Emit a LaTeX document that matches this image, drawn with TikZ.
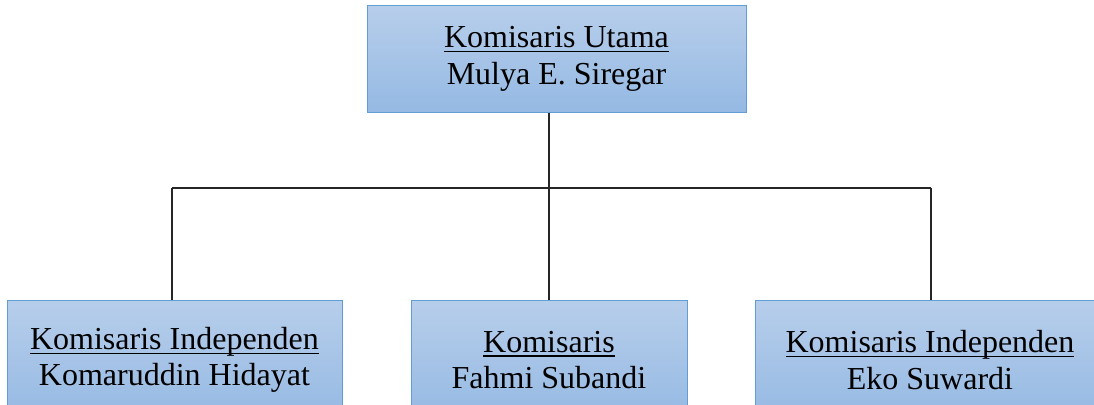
\documentclass[tikz,border=0pt]{standalone}
\usepackage{fontspec}
\setmainfont{Liberation Serif}
\usepackage{tikz}
\definecolor{boxtop}{RGB}{183,206,235}
\definecolor{boxbot}{RGB}{149,185,227}
\definecolor{boxline}{RGB}{98,158,214}
\newcommand{\garis}[1]{\setbox0\hbox{#1}\rlap{\rule[-4.6pt]{\wd0}{1.3pt}}\box0}

\begin{document}
\begin{tikzpicture}[x=1pt,y=-1pt,
    kom/.style={draw=boxline, line width=1pt, top color=boxtop, bottom color=boxbot,
                align=center, inner sep=0pt, font=\fontsize{32}{36.5}\selectfont},
    wire/.style={black!85, line width=1.2pt}]
   \useasboundingbox (0,0) rectangle (1094,404);
   \clip (0,0) rectangle (1094,404);
   % boxes
   \node[kom, minimum width=379pt, minimum height=106pt] (utama) at (556.5,59)
        {\garis{Komisaris Utama}\\Mulya E. Siregar};
   \node[kom, minimum width=335pt, minimum height=120pt] (kiri) at (174.5,360)
        {\garis{Komisaris Independen}\\Komaruddin Hidayat};
   \node[kom, minimum width=276pt, minimum height=120pt] (tengah) at (549,360)
        {\garis{Komisaris}\\Fahmi Subandi};
   \node[kom, minimum width=350pt, minimum height=120pt] (kanan) at (930,360)
        {\garis{Komisaris Independen}\\Eko Suwardi};
   % lines
   \coordinate (jl) at (172,188);
   \coordinate (jr) at (931,188);
   \draw[wire] (jl) -- (jr);
   \draw[wire] (tengah.north |- utama.south) -- (tengah.north);
   \draw[wire] (jl) -- (jl |- kiri.north);
   \draw[wire] (jr) -- (jr |- kanan.north);
\end{tikzpicture}
\end{document}
